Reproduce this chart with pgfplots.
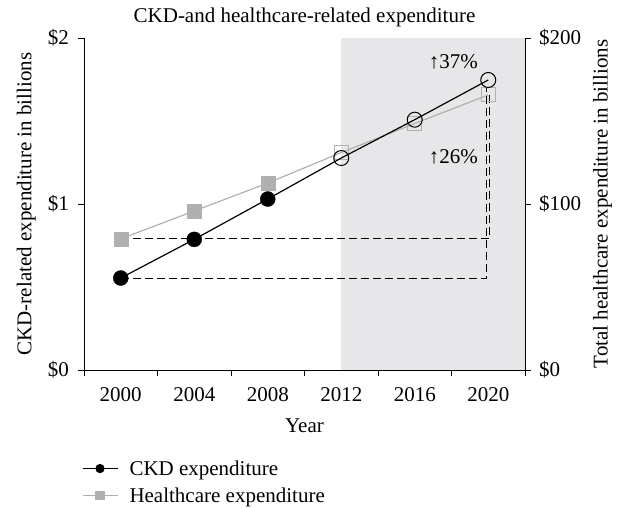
\documentclass[border=0pt]{standalone}
\usepackage{fontspec}
\setmainfont{Liberation Serif}
\usepackage{pgfplots}
\pgfplotsset{compat=1.18}
\definecolor{hc}{RGB}{176,176,176}
\definecolor{bgshade}{RGB}{231,231,233}

\begin{document}
\begin{tikzpicture}
\pgfplotsset{
  every axis/.append style={
    scale only axis, width=441pt, height=332pt,
    xmin=1998, xmax=2022,
    font=\fontsize{21}{24}\selectfont,
    tick align=outside, major tick length=6pt,
    every tick/.style={black, line width=0.8pt},
    axis line style={black, line width=0.8pt},
    yticklabel style={inner sep=9pt},
    xticklabel style={yshift=-8pt},
  },
}
% right axis: healthcare
\begin{axis}[
  ymin=0, ymax=200,
  axis y line*=right, axis x line=none,
  ytick={0,100,200}, yticklabels={\$0,\$100,\$200},
  yticklabel style={inner sep=8pt},
  ylabel={Total healthcare expenditure in billions},
  every axis y label/.style={at={(axis description cs:1.176,0.5)}, rotate=90, anchor=center},
]
\fill[bgshade] (axis cs:2012,0) rectangle (axis cs:2022,200);
\addplot[black, dash pattern=on 8pt off 4pt, line width=0.8pt, forget plot] coordinates {(2000,79) (2020.05,79) (2020.05,165.7)};
\addplot[hc, line width=1.2pt, no marks, forget plot] coordinates {
  (2000,79) (2004,95.8) (2008,112.6) (2012,131) (2016,148.5) (2020,165.7)};
\addplot[only marks, mark=square*, mark size=7pt, hc, forget plot] coordinates {
  (2000,79) (2004,95.8) (2008,112.6)};
\addplot[only marks, mark=square, mark size=7pt, hc, line width=1pt, forget plot] coordinates {
  (2012,131) (2016,148.5) (2020,165.7)};
\end{axis}
% left axis: CKD
\begin{axis}[
  ymin=0, ymax=2,
  axis y line*=left, axis x line*=bottom,
  ytick={0,1,2}, yticklabels={\$0,\$1,\$2},
  xtick={1998,2002,...,2022},
  x tick label as interval,
  xticklabels={2000,2004,2008,2012,2016,2020},
  xlabel={Year},
  ylabel={CKD-related expenditure in billions},
  title={CKD-and healthcare-related expenditure},
  every axis y label/.style={at={(axis description cs:-0.131,0.5)}, rotate=90, anchor=center},
  every axis x label/.style={at={(axis description cs:0.5,-0.168)}, anchor=center},
  every axis title/.style={at={(axis description cs:0.5,1.063)}, anchor=center},
  legend style={draw=none, fill=none, at={(axis description cs:-0.012,-0.26)},
    anchor=north west, cells={anchor=west}, row sep=7pt,
    font=\fontsize{21}{24}\selectfont},
  legend image code/.code={\draw[mark repeat=2,mark phase=2,#1]
    plot coordinates {(0pt,0pt) (17.5pt,0pt) (35pt,0pt)};
    \path[draw=none] (0pt,0pt) -- (45pt,0pt);},
]
\coordinate (ll) at (rel axis cs:0,0);
\coordinate (ur) at (rel axis cs:1,1);
\addplot[black, dash pattern=on 8pt off 4pt, line width=0.8pt, forget plot] coordinates {(2000,0.554) (2019.9,0.554) (2019.9,1.70)};
\addplot[black, line width=1.2pt, no marks, forget plot] coordinates {
  (2000,0.554) (2004,0.787) (2008,1.03) (2012,1.277) (2016,1.508) (2020,1.747)};
\addplot[only marks, mark=*, mark size=7.5pt, black, forget plot] coordinates {
  (2000,0.554) (2004,0.787) (2008,1.03)};
\addplot[only marks, mark=o, mark size=7.5pt, black, line width=1pt, forget plot] coordinates {
  (2012,1.277) (2016,1.508) (2020,1.747)};
\node at (axis cs:2018.1,1.855) {↑37\%};
\node at (axis cs:2018.1,1.283) {↑26\%};
\addlegendimage{black, line width=1.2pt, mark=*, mark size=4pt}
\addlegendentry{CKD expenditure}
\addlegendimage{hc, line width=1.2pt, mark=square*, mark size=4pt}
\addlegendentry{Healthcare expenditure}
\end{axis}
\path ([shift={(-84pt,-136pt)}]ll) rectangle ([shift={(96pt,38pt)}]ur);
\end{tikzpicture}
\end{document}
